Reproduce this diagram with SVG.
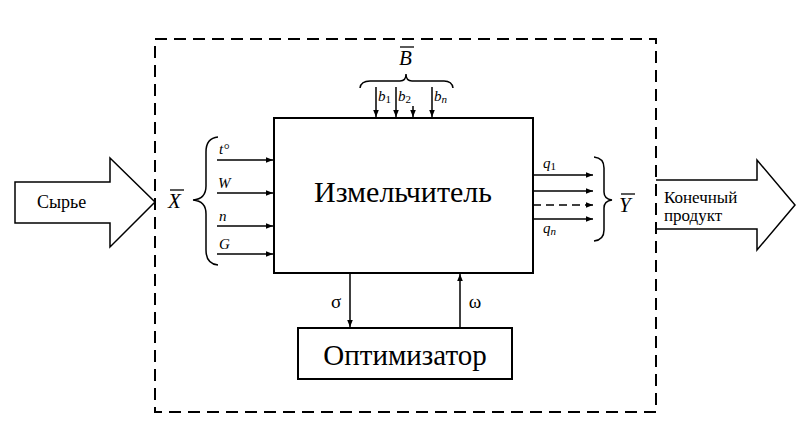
<svg xmlns="http://www.w3.org/2000/svg" width="811" height="431" viewBox="0 0 811 431">
<defs>
<marker id="ah" viewBox="0 0 10 10" refX="10" refY="5" markerWidth="7" markerHeight="7" markerUnits="userSpaceOnUse" orient="auto"><path d="M0,1 L10,5 L0,9 Z" fill="#000"/></marker>
<style>
.ln{stroke:#000;stroke-width:1.5;fill:none}
.box{stroke:#000;stroke-width:2;fill:#fff}
.m{font-style:italic;font-size:15px}
</style>
</defs>
<g font-family="'Liberation Serif', 'DejaVu Serif', serif" fill="#000">
<rect x="155" y="39" width="501" height="373" fill="none" stroke="#000" stroke-width="2" stroke-dasharray="12,7"/>
<g id="input">
<path class="ln" d="M15,182 H110 V158 L155,202 L110,247 V223 H15 Z" fill="#fff"/>
<text x="37" y="208" font-size="18">Сырье</text>
</g>
<g id="output">
<path class="ln" d="M656,180 H757 V160 L795,205 L757,250 V229 H656" fill="#fff"/>
<text x="664" y="203" font-size="17">Конечный</text>
<text x="664" y="221" font-size="17">продукт</text>
</g>
<g id="crusher">
<rect class="box" x="274" y="118" width="259" height="155"/>
<text x="403" y="202" font-size="30" text-anchor="middle">Измельчитель</text>
</g>
<g id="optimizer">
<rect class="box" x="298" y="328" width="214" height="51"/>
<text x="405" y="365" font-size="29" text-anchor="middle">Оптимизатор</text>
</g>
<g id="connectors">
<line class="ln" x1="350" y1="273" x2="350" y2="327" marker-end="url(#ah)"/>
<line class="ln" x1="460" y1="328" x2="460" y2="274" marker-end="url(#ah)"/>
<line class="ln" x1="217" y1="160" x2="273" y2="160" marker-end="url(#ah)"/>
<line class="ln" x1="217" y1="193" x2="273" y2="193" marker-end="url(#ah)"/>
<line class="ln" x1="217" y1="226" x2="273" y2="226" marker-end="url(#ah)"/>
<line class="ln" x1="217" y1="254" x2="273" y2="254" marker-end="url(#ah)"/>
<line class="ln" x1="533" y1="175" x2="593" y2="175" marker-end="url(#ah)"/>
<line class="ln" x1="533" y1="191" x2="593" y2="191" marker-end="url(#ah)"/>
<line class="ln" x1="533" y1="205" x2="593" y2="205" stroke-dasharray="8,5" marker-end="url(#ah)"/>
<line class="ln" x1="533" y1="219" x2="593" y2="219" marker-end="url(#ah)"/>
<line class="ln" x1="376" y1="87" x2="376" y2="117" marker-end="url(#ah)"/>
<line class="ln" x1="396" y1="87" x2="396" y2="117" marker-end="url(#ah)"/>
<line class="ln" x1="413" y1="106" x2="413" y2="117" marker-end="url(#ah)"/>
<line class="ln" x1="432" y1="87" x2="432" y2="117" marker-end="url(#ah)"/>
</g>
<g id="labels">
<text x="336" y="308" font-size="19" text-anchor="middle">σ</text>
<text x="475" y="308" font-size="19" text-anchor="middle">ω</text>
<text class="m" x="219" y="154">t°</text>
<text class="m" x="218" y="188">W</text>
<text class="m" x="219" y="221">n</text>
<text class="m" x="219" y="249">G</text>
<text class="m" x="543" y="168">q<tspan font-size="11" dy="2" font-style="normal">1</tspan></text>
<text class="m" x="543" y="233">q<tspan font-size="11" dy="2">n</tspan></text>
<text class="m" x="378" y="101">b<tspan font-size="11" dy="2" font-style="normal">1</tspan></text>
<text class="m" x="398" y="101">b<tspan font-size="11" dy="2" font-style="normal">2</tspan></text>
<text class="m" x="434" y="101">b<tspan font-size="11" dy="2">n</tspan></text>
<text class="m" x="399" y="65" style="font-size:21px">B</text>
<line x1="400" y1="47" x2="414" y2="47" stroke="#000" stroke-width="1.3"/>
<text class="m" x="168" y="208" style="font-size:21px">X</text>
<line x1="170" y1="190" x2="184" y2="190" stroke="#000" stroke-width="1.3"/>
<text class="m" x="619" y="212" style="font-size:21px">Y</text>
<line x1="621" y1="194" x2="635" y2="194" stroke="#000" stroke-width="1.3"/>
</g>
<g id="braces">
<path class="ln" d="M218,137 Q206,138 206,152 V186 Q206,199 193,200 Q206,201 206,214 V250 Q206,264 218,265"/>
<path class="ln" d="M594,157 Q604,158 604,168 V192 Q604,199 612,200 Q604,201 604,208 V230 Q604,240 594,241"/>
<path class="ln" d="M360,88 Q361,81 370,81 H400 Q406,81 406,74 Q406,81 412,81 H444 Q452,81 453,88"/>
</g>
</g>
</svg>
